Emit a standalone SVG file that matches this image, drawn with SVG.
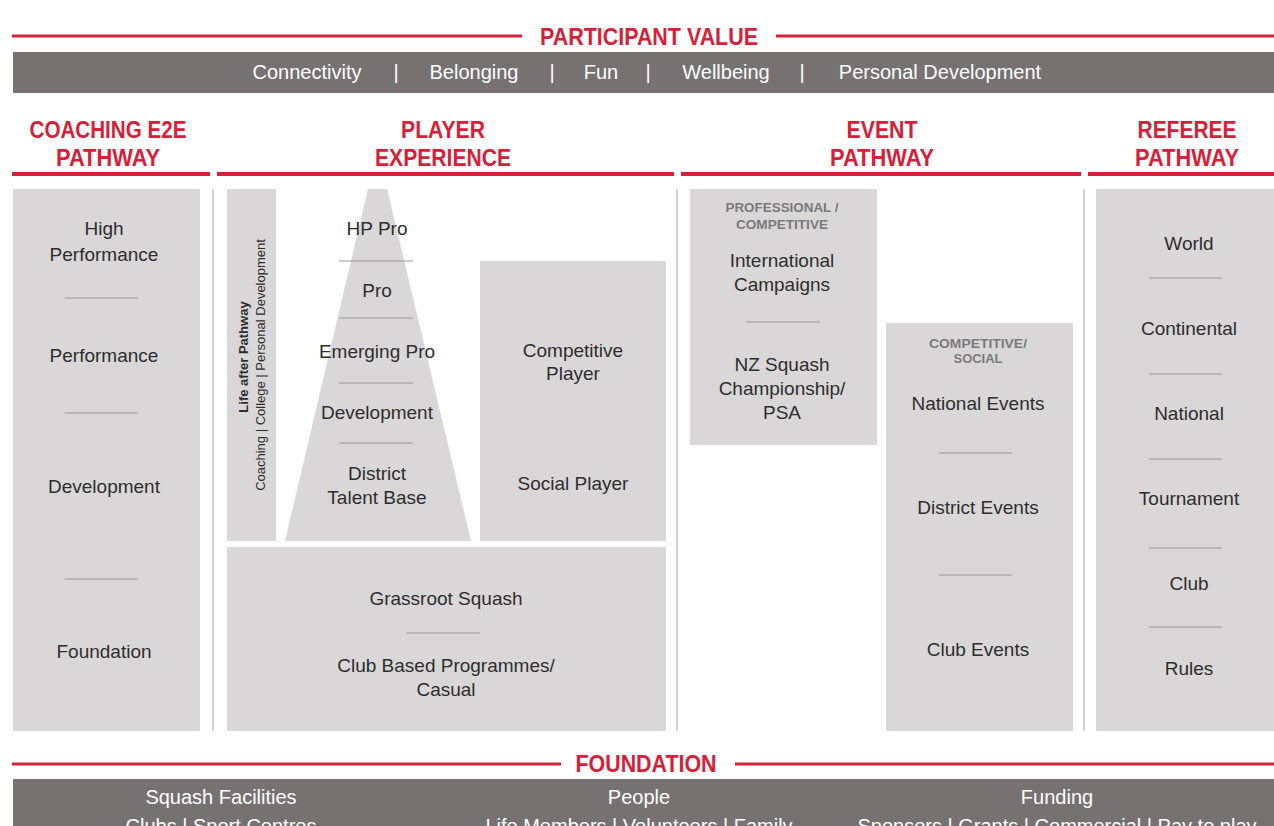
<svg xmlns="http://www.w3.org/2000/svg" width="1274" height="826" viewBox="0 0 1274 826">
<style>
.red{fill:#d42139;font-family:"Liberation Sans",Arial,sans-serif;font-weight:bold;font-size:24px;text-anchor:middle}
.rl{stroke:#d42139;stroke-width:3}
.hl{stroke:#d42139;stroke-width:4}
.bar{fill:#767272}
.bt{fill:#ffffff;font-family:"Liberation Sans",Arial,sans-serif;font-size:20px;text-anchor:middle}
.box{fill:#d9d7d8}
.t{fill:#2e2e2e;font-family:"Liberation Sans",Arial,sans-serif;font-size:19px;text-anchor:middle}
.sep{stroke:#9a9a9a;stroke-width:1}
.div{stroke:#b5b5b5;stroke-width:1.2}
.lab{fill:#7a7a7a;font-family:"Liberation Sans",Arial,sans-serif;font-weight:bold;font-size:12px;text-anchor:middle}
.v{fill:#2e2e2e;font-family:"Liberation Sans",Arial,sans-serif;font-size:13px;text-anchor:middle}
</style>
<rect width="1274" height="826" fill="#ffffff"/>

<g id="participant-value">
<line class="rl" x1="12" y1="36" x2="522" y2="36"/>
<line class="rl" x1="776" y1="36" x2="1274" y2="36"/>
<text class="red" x="649" y="45" textLength="218" lengthAdjust="spacingAndGlyphs">PARTICIPANT VALUE</text>
<rect class="bar" x="13" y="52" width="1261" height="41"/>
<text class="bt" x="307" y="79">Connectivity</text>
<text class="bt" x="396" y="79">|</text>
<text class="bt" x="474" y="79">Belonging</text>
<text class="bt" x="552" y="79">|</text>
<text class="bt" x="601" y="79">Fun</text>
<text class="bt" x="648" y="79">|</text>
<text class="bt" x="726" y="79">Wellbeing</text>
<text class="bt" x="802" y="79">|</text>
<text class="bt" x="940" y="79">Personal Development</text>
</g>

<g id="headers">
<text class="red" x="108" y="138" textLength="157" lengthAdjust="spacingAndGlyphs">COACHING E2E</text>
<text class="red" x="108" y="166" textLength="104" lengthAdjust="spacingAndGlyphs">PATHWAY</text>
<line class="hl" x1="12" y1="174" x2="210" y2="174"/>
<text class="red" x="443" y="138" textLength="84" lengthAdjust="spacingAndGlyphs">PLAYER</text>
<text class="red" x="443" y="166" textLength="136" lengthAdjust="spacingAndGlyphs">EXPERIENCE</text>
<line class="hl" x1="217" y1="174" x2="674" y2="174"/>
<text class="red" x="882" y="138" textLength="71" lengthAdjust="spacingAndGlyphs">EVENT</text>
<text class="red" x="882" y="166" textLength="104" lengthAdjust="spacingAndGlyphs">PATHWAY</text>
<line class="hl" x1="681" y1="174" x2="1081" y2="174"/>
<text class="red" x="1187" y="138" textLength="99" lengthAdjust="spacingAndGlyphs">REFEREE</text>
<text class="red" x="1187" y="166" textLength="104" lengthAdjust="spacingAndGlyphs">PATHWAY</text>
<line class="hl" x1="1088" y1="174" x2="1274" y2="174"/>
</g>

<g id="dividers">
<line class="div" x1="213" y1="189" x2="213" y2="731"/>
<line class="div" x1="677" y1="189" x2="677" y2="731"/>
<line class="div" x1="1084" y1="189" x2="1084" y2="731"/>
</g>

<g id="coaching">
<rect class="box" x="13" y="189" width="187" height="542"/>
<text class="t" x="104" y="235">High</text>
<text class="t" x="104" y="261">Performance</text>
<line class="sep" x1="65" y1="298" x2="138" y2="298"/>
<text class="t" x="104" y="362">Performance</text>
<line class="sep" x1="65" y1="413" x2="138" y2="413"/>
<text class="t" x="104" y="493">Development</text>
<line class="sep" x1="65" y1="579" x2="138" y2="579"/>
<text class="t" x="104" y="658">Foundation</text>
</g>

<g id="life-after-pathway">
<rect class="box" x="227" y="189" width="49" height="352"/>
<text class="v" font-weight="bold" transform="translate(248,357) rotate(-90)">Life after Pathway</text>
<text class="v" transform="translate(265,365) rotate(-90)">Coaching  |  College  |  Personal Development</text>
</g>

<g id="player-pyramid">
<polygon class="box" points="368,189 387,189 471,541 285,541"/>
<text class="t" x="377" y="235">HP Pro</text>
<line class="sep" x1="339" y1="261" x2="413" y2="261"/>
<text class="t" x="377" y="297">Pro</text>
<line class="sep" x1="339" y1="318" x2="413" y2="318"/>
<text class="t" x="377" y="358">Emerging Pro</text>
<line class="sep" x1="339" y1="383" x2="413" y2="383"/>
<text class="t" x="377" y="419">Development</text>
<line class="sep" x1="339" y1="443" x2="413" y2="443"/>
<text class="t" x="377" y="480">District</text>
<text class="t" x="377" y="504">Talent Base</text>
</g>

<g id="player-types">
<rect class="box" x="480" y="261" width="186" height="280"/>
<text class="t" x="573" y="357">Competitive</text>
<text class="t" x="573" y="380">Player</text>
<text class="t" x="573" y="490">Social Player</text>
</g>

<g id="grassroot">
<rect class="box" x="227" y="547" width="439" height="184"/>
<text class="t" x="446" y="605">Grassroot Squash</text>
<line class="sep" x1="406" y1="633" x2="480" y2="633"/>
<text class="t" x="446" y="672">Club Based Programmes/</text>
<text class="t" x="446" y="696">Casual</text>
</g>

<g id="event-professional">
<rect class="box" x="690" y="189" width="187" height="256"/>
<text class="lab" x="782" y="212" textLength="113" lengthAdjust="spacingAndGlyphs">PROFESSIONAL /</text>
<text class="lab" x="782" y="229" textLength="92" lengthAdjust="spacingAndGlyphs">COMPETITIVE</text>
<text class="t" x="782" y="267">International</text>
<text class="t" x="782" y="291">Campaigns</text>
<line class="sep" x1="746" y1="322" x2="820" y2="322"/>
<text class="t" x="782" y="371">NZ Squash</text>
<text class="t" x="782" y="395">Championship/</text>
<text class="t" x="782" y="419">PSA</text>
</g>

<g id="event-social">
<rect class="box" x="886" y="323" width="187" height="408"/>
<text class="lab" x="978" y="348" textLength="98" lengthAdjust="spacingAndGlyphs">COMPETITIVE/</text>
<text class="lab" x="978" y="363" textLength="49" lengthAdjust="spacingAndGlyphs">SOCIAL</text>
<text class="t" x="978" y="410">National Events</text>
<line class="sep" x1="939" y1="453" x2="1012" y2="453"/>
<text class="t" x="978" y="514">District Events</text>
<line class="sep" x1="939" y1="575" x2="1012" y2="575"/>
<text class="t" x="978" y="656">Club Events</text>
</g>

<g id="referee">
<rect class="box" x="1096" y="189" width="178" height="542"/>
<text class="t" x="1189" y="250">World</text>
<line class="sep" x1="1149" y1="278" x2="1222" y2="278"/>
<text class="t" x="1189" y="335">Continental</text>
<line class="sep" x1="1149" y1="374" x2="1222" y2="374"/>
<text class="t" x="1189" y="420">National</text>
<line class="sep" x1="1149" y1="459" x2="1222" y2="459"/>
<text class="t" x="1189" y="505">Tournament</text>
<line class="sep" x1="1149" y1="548" x2="1222" y2="548"/>
<text class="t" x="1189" y="590">Club</text>
<line class="sep" x1="1149" y1="627" x2="1222" y2="627"/>
<text class="t" x="1189" y="675">Rules</text>
</g>

<g id="foundation">
<line class="rl" x1="12" y1="764" x2="561" y2="764"/>
<line class="rl" x1="735" y1="764" x2="1274" y2="764"/>
<text class="red" x="646" y="772" textLength="141" lengthAdjust="spacingAndGlyphs">FOUNDATION</text>
<rect class="bar" x="13" y="779" width="1261" height="47"/>
<text class="bt" x="221" y="804">Squash Facilities</text>
<text class="bt" x="639" y="804">People</text>
<text class="bt" x="1057" y="804">Funding</text>
<text class="bt" font-size="18" x="221" y="833">Clubs  |  Sport Centres</text>
<text class="bt" font-size="18" x="639" y="833">Life Members  |  Volunteers  |  Family</text>
<text class="bt" font-size="18" x="1057" y="833">Sponsors  |  Grants  |  Commercial  |  Pay to play</text>
</g>
</svg>
